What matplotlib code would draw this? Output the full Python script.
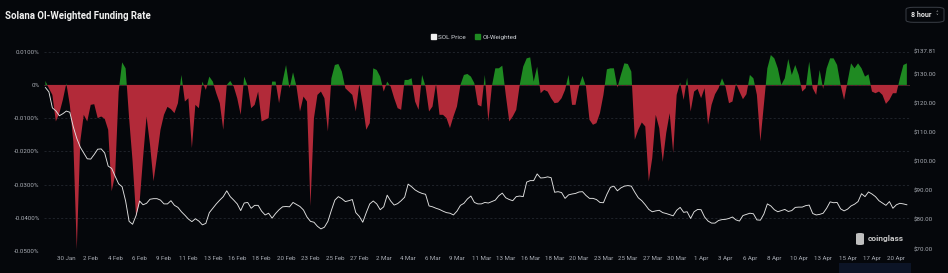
import numpy as np
import pandas as pd
import matplotlib
matplotlib.use("Agg")
import matplotlib.pyplot as plt
from matplotlib.patches import Patch, FancyBboxPatch, Rectangle

# 8-hour OI-weighted funding rate (%), one value per period
funding = [
    0.0012, -0.0010, -0.0030, -0.0110, -0.0085, -0.0045, 0.0005, -0.0060, -0.0170, -0.0495,
    -0.0170, -0.0090, -0.0110, -0.0060, -0.0058, -0.0100, -0.0095, -0.0102, -0.0135, -0.0320,
    -0.0270, -0.0020, 0.0068, 0.0050, -0.0100, -0.0230, -0.0395, -0.0355, -0.0220, -0.0095,
    -0.0180, -0.0290, -0.0215, -0.0135, -0.0090, -0.0066, -0.0073, -0.0085, -0.0055, 0.0030,
    -0.0050, -0.0040, -0.0190, -0.0060, -0.0070, 0.0010, -0.0015, 0.0025, 0.0010, -0.0025,
    -0.0055, -0.0135, 0.0000, 0.0012, -0.0005, -0.0040, -0.0090, 0.0025, -0.0003, -0.0070,
    -0.0060, -0.0020, -0.0110, -0.0105, -0.0100, 0.0010, 0.0010, -0.0055, 0.0010, 0.0060,
    -0.0010, 0.0038, -0.0005, -0.0080, -0.0035, -0.0050, -0.0365, -0.0100, -0.0030, -0.0020,
    -0.0040, -0.0140, 0.0020, 0.0060, 0.0063, 0.0040, -0.0010, -0.0020, -0.0030, -0.0080,
    0.0003, -0.0060, -0.0135, -0.0115, 0.0050, 0.0045, 0.0025, -0.0020, 0.0010, -0.0005,
    -0.0040, -0.0070, -0.0075, 0.0015, 0.0015, 0.0020, -0.0050, -0.0075, 0.0030, -0.0005,
    -0.0080, -0.0065, 0.0005, -0.0090, -0.0090, -0.0100, -0.0130, -0.0095, -0.0065, 0.0000,
    0.0030, 0.0033, 0.0025, 0.0005, -0.0060, -0.0065, 0.0030, -0.0110, -0.0005, 0.0050,
    0.0050, 0.0058, -0.0030, -0.0110, -0.0095, -0.0075, 0.0000, 0.0055, 0.0080, 0.0083,
    0.0010, 0.0055, -0.0025, -0.0015, -0.0020, -0.0040, -0.0055, -0.0053, -0.0040, -0.0015,
    0.0030, -0.0060, -0.0060, -0.0005, 0.0027, -0.0005, -0.0105, -0.0120, -0.0115, -0.0085,
    -0.0030, 0.0047, 0.0050, 0.0050, -0.0008, 0.0030, 0.0065, 0.0063, 0.0040, -0.0165,
    -0.0135, -0.0113, -0.0125, -0.0290, -0.0220, -0.0090, -0.0130, -0.0232, -0.0145, -0.0085,
    -0.0205, -0.0030, 0.0007, -0.0045, 0.0022, -0.0080, -0.0020, -0.0012, -0.0040, -0.0010,
    -0.0120, -0.0060, -0.0028, -0.0010, 0.0020, -0.0005, -0.0055, -0.0050, 0.0005, -0.0020,
    -0.0043, -0.0028, 0.0030, 0.0020, -0.0030, -0.0170, -0.0060, 0.0050, 0.0090, 0.0080,
    0.0050, 0.0000, 0.0020, 0.0078, 0.0030, 0.0060, 0.0030, -0.0020, -0.0010, 0.0070,
    -0.0010, -0.0030, 0.0045, -0.0012, 0.0050, 0.0080, 0.0080, 0.0060, 0.0000, -0.0045,
    0.0010, 0.0065, 0.0050, 0.0065, 0.0050, 0.0025, 0.0032, -0.0020, -0.0025, -0.0020,
    -0.0030, -0.0057, -0.0045, -0.0025, -0.0025, 0.0020, 0.0060, 0.0065,
]

# SOL price (USD), same periods
price = [
    125.5, 124.0, 118.5, 117.5, 115.8, 116.5, 117.4, 117.0, 112.0, 108.0,
    105.0, 103.0, 101.0, 100.9, 102.5, 104.3, 104.4, 103.0, 98.5, 97.7,
    95.0, 92.4, 91.4, 86.5, 79.5, 78.5, 81.5, 86.5, 85.2, 85.7,
    87.1, 87.3, 87.3, 86.8, 85.5, 85.5, 86.6, 85.0, 84.3, 82.8,
    81.6, 80.3, 79.4, 80.4, 79.6, 78.3, 78.8, 82.5, 84.0, 85.5,
    86.8, 88.0, 90.0, 88.0, 86.8, 85.5, 83.2, 85.8, 86.0, 84.0,
    85.0, 85.0, 83.0, 81.7, 82.3, 80.6, 82.2, 83.5, 84.5, 84.6,
    84.5, 86.0, 85.3, 84.6, 83.4, 81.0, 79.5, 79.2, 77.8, 76.9,
    77.5, 79.5, 83.3, 86.8, 88.0, 87.3, 86.3, 86.6, 87.0, 82.5,
    81.2, 79.2, 82.5, 85.5, 86.5, 85.5, 83.5, 84.5, 88.5, 86.5,
    85.1, 85.6, 86.6, 87.8, 92.3, 91.4, 90.3, 89.6, 89.1, 88.8,
    84.8, 84.5, 84.0, 83.6, 83.0, 82.5, 82.3, 81.7, 83.0, 85.0,
    85.7, 87.2, 88.2, 86.0, 85.5, 85.5, 86.0, 85.8, 86.3, 86.8,
    88.3, 89.2, 87.6, 87.0, 86.6, 88.0, 88.2, 88.0, 93.0, 93.5,
    93.5, 95.8, 94.4, 94.5, 94.8, 94.5, 89.5, 89.7, 89.4, 87.4,
    88.6, 88.9, 89.1, 89.6, 89.7, 88.4, 87.4, 87.4, 87.0, 86.0,
    85.9, 88.8, 91.2, 91.6, 90.0, 91.0, 91.6, 91.8, 91.6, 89.5,
    87.6, 86.6, 85.2, 83.6, 82.8, 83.1, 83.3, 82.5, 82.2, 81.8,
    81.4, 83.3, 84.3, 82.6, 82.8, 80.5, 82.8, 83.6, 83.5, 81.0,
    79.6, 78.9, 78.9, 79.8, 80.1, 80.2, 80.5, 81.0, 80.0, 79.6,
    81.5, 81.9, 82.3, 82.1, 80.0, 79.9, 82.0, 85.5, 84.8, 83.5,
    82.8, 83.2, 83.6, 82.9, 83.2, 84.3, 84.4, 84.4, 84.9, 85.1,
    82.2, 81.7, 81.9, 82.3, 84.0, 86.2, 85.9, 86.0, 83.8, 83.1,
    83.7, 84.8, 85.4, 86.3, 89.0, 88.0, 89.6, 88.9, 88.0, 86.6,
    85.8, 85.0, 86.3, 84.0, 85.2, 85.7, 85.5, 85.2,
]

times = pd.date_range("2025-01-28 16:00", periods=len(funding), freq="8h")
fr_ticks = [0.01, 0.0, -0.01, -0.02, -0.03, -0.04, -0.05]
px_ticks = [70, 80, 90, 100, 110, 120, 130, 137.81]

BG = "#05070b"
RED = "#b22a39"
GREEN = "#1f8a22"
TXT = "#a9adb5"

plt.rcParams["font.family"] = ["Roboto", "DejaVu Sans"]

fig = plt.figure(figsize=(9.48, 2.73), dpi=100, facecolor=BG)
ax = fig.add_axes([44 / 948, 22 / 273, 866 / 948, 199.3 / 273])
ax.set_facecolor(BG)
ax2 = ax.twinx()

x = np.arange(len(funding))
fr = np.array(funding)

ax.fill_between(x, 0, fr, where=fr >= 0, interpolate=True, color=GREEN, lw=0)
ax.fill_between(x, 0, fr, where=fr <= 0, interpolate=True, color=RED, lw=0)
ax.axhline(0, color="#6b2029", lw=0.6, zorder=0)
ax.set_ylim(-0.05, 0.01)
ax.set_xlim(-0.4, len(funding) - 0.1)
ax.set_yticks(fr_ticks)
ax.set_yticklabels(["0%" if v == 0 else "{:.4f}%".format(v) for v in fr_ticks])
ax.grid(axis="y", color="#2a2e37", lw=0.5, ls=(0, (3, 3)))
ax.set_axisbelow(True)

tick_idx = list(range(6, len(funding), 7))
ax.set_xticks(tick_idx)
ax.set_xticklabels(["{} {}".format(times[i].day, times[i].strftime("%b")) for i in tick_idx])

ax2.plot(x, price, color="#e2e2e2", lw=0.65)
ax2.set_ylim(137.81 - 199.3 * 67.81 / 197.3, 137.81)
ax2.set_yticks(px_ticks)
ax2.set_yticklabels(["${:.2f}".format(v) for v in px_ticks])

for a in (ax, ax2):
    for s in a.spines.values():
        s.set_visible(False)
    a.tick_params(length=0, colors=TXT, labelsize=4.4)
ax.tick_params(axis="y", pad=3)
ax.tick_params(axis="x", pad=3.5)
ax2.tick_params(axis="y", pad=3)

fig.text(5 / 948, 1 - 16 / 273, "Solana OI-Weighted Funding Rate", color="#f2f2f2",
         fontsize=6.9, fontweight="bold", va="center", ha="left")

handles = [Patch(color="#f0f0f0"), Patch(color=GREEN)]
fig.legend(handles, ["SOL Price", "OI-Weighted"], loc="center",
           bbox_to_anchor=(474 / 948, 1 - 37 / 273), ncol=2, frameon=False,
           fontsize=4.6, handlelength=0.8, handleheight=0.8, handletextpad=0.4,
           columnspacing=1.4, labelcolor="#d0d3d8")

# period selector box
fig.patches.append(FancyBboxPatch((906 / 948, 1 - 22.3 / 273), 38 / 948, 15 / 273,
                                  boxstyle="round,pad=0,rounding_size=0.008",
                                  transform=fig.transFigure, fc=BG, ec="#3a3e46", lw=0.7))
fig.text(911 / 948, 1 - 15 / 273, "8 hour", color="#e8e8e8", fontsize=5,
         fontweight="bold", va="center", ha="left")
fig.text(937 / 948, 1 - 13.2 / 273, "\u02c4", color="#bbbbbb", fontsize=4,
         va="center", ha="center", family="DejaVu Sans")
fig.text(937 / 948, 1 - 16.8 / 273, "\u02c5", color="#bbbbbb", fontsize=4,
         va="center", ha="center", family="DejaVu Sans")

# watermark
fig.patches.append(FancyBboxPatch((856 / 948, 1 - 245 / 273), 8 / 948, 12 / 273,
                                  boxstyle="round,pad=0,rounding_size=0.004",
                                  transform=fig.transFigure, fc="#bfbfbf", ec="none"))
fig.text(868 / 948, 1 - 238.5 / 273, "coinglass", color="#c8c8c8", fontsize=6,
         fontweight="bold", va="center", ha="left")

# range navigator strip at the bottom edge
fig.patches.append(Rectangle((839 / 948, 0), 72 / 948, 10 / 273,
                             transform=fig.transFigure, fc="#0c1426", ec="none"))

fig.savefig("out.png", dpi=100, facecolor=BG)
